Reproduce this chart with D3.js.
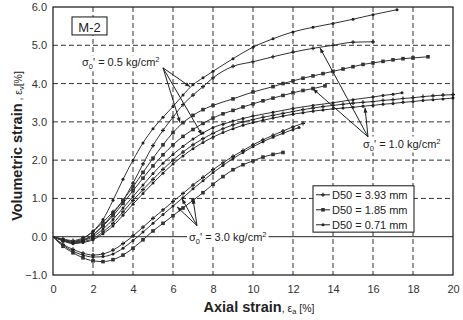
<!DOCTYPE html>
<html><head><meta charset="utf-8">
<script src="https://cdn.jsdelivr.net/npm/d3@7"></script>
<style>body{margin:0;background:#fff} svg{display:block}</style>
</head><body>
<svg id="c" width="463" height="320"></svg>
<script>
// ---------- DATA ----------
const xTicks = [0,2,4,6,8,10,12,14,16,18,20];
const yTicks = [-1,0,1,2,3,4,5,6];
const legendLabels = ["D50 = 3.93 mm","D50 = 1.85 mm","D50 = 0.71 mm"];
const markerTypes = ["plus","square","dot"];

// sigma0' = 0.5 / 1.0 kg/cm2 family (axial strain %, volumetric strain %)
const curve1 = [[0,0],[0.5,-0.07],[1,-0.12],[1.5,-0.05],[2,0.15],[2.5,0.45],[3,0.95],[3.5,1.5],[4,2.0],[4.5,2.45],[5,2.82],[5.5,3.12],[6,3.4],[6.5,3.7],[7,3.97],[7.5,4.15],[8,4.32],[9,4.65],[10,4.95],[11,5.17],[12,5.35],[13,5.47],[14,5.57],[15,5.68],[16,5.8],[17.2,5.93]];
const curve2 = [[0,0],[0.5,-0.06],[1,-0.1],[1.5,-0.03],[2,0.13],[2.5,0.38],[3,0.65],[3.5,0.95],[4,1.4],[4.5,1.9],[5,2.38],[5.5,2.78],[6,3.12],[6.5,3.45],[7,3.7],[7.5,3.92],[8,4.15],[9,4.45],[10,4.57],[11,4.7],[12,4.82],[13,4.92],[14,5.0],[15,5.08],[16,5.09]];
const curve3 = [[0,0],[0.5,-0.1],[1,-0.15],[1.5,-0.1],[2,0.05],[2.5,0.3],[3,0.6],[3.5,0.95],[4,1.3],[4.5,1.68],[5,2.05],[5.5,2.4],[6,2.72],[6.5,2.98],[7,3.17],[7.5,3.32],[8,3.43],[9,3.6],[10,3.78],[11,3.92],[11.5,4.0],[12,4.07],[12.5,4.14],[13,4.2],[13.5,4.26],[14,4.32],[14.5,4.38],[15,4.44],[15.5,4.5],[16,4.54],[16.5,4.58],[17,4.62],[17.5,4.65],[18,4.67],[18.75,4.7]];
const curve4 = [[0,0],[0.5,-0.08],[1,-0.13],[1.5,-0.08],[2,0.05],[2.5,0.28],[3,0.55],[3.5,0.87],[4,1.2],[4.5,1.53],[5,1.85],[5.5,2.14],[6,2.4],[6.5,2.62],[7,2.8],[7.5,2.96],[8,3.1],[8.5,3.21],[9,3.3],[9.5,3.39],[10,3.47],[10.5,3.55],[11,3.62],[11.5,3.69],[12,3.76],[12.5,3.82],[13,3.87],[13.6,3.94]];
const curve5 = [[0,0],[0.5,-0.09],[1,-0.15],[1.5,-0.1],[2,0.0],[2.5,0.2],[3,0.45],[3.5,0.75],[4,1.05],[4.5,1.35],[5,1.65],[5.5,1.92],[6,2.15],[6.5,2.36],[7,2.55],[7.5,2.71],[8,2.85],[8.5,2.94],[9,3.02],[9.5,3.09],[10,3.15],[11,3.25],[12,3.35],[13,3.43],[14,3.5],[15,3.58],[16,3.65],[16.5,3.69],[17,3.72],[17.45,3.76]];
const curve6 = [[0,0],[0.5,-0.1],[1,-0.17],[1.5,-0.13],[2,-0.05],[2.5,0.13],[3,0.35],[3.5,0.65],[4,0.95],[4.5,1.23],[5,1.5],[5.5,1.76],[6,2.0],[6.5,2.21],[7,2.4],[7.5,2.56],[8,2.7],[8.5,2.82],[9,2.92],[9.5,3.0],[10,3.06],[10.5,3.12],[11,3.17],[11.5,3.22],[12,3.27],[12.5,3.32],[13,3.36],[13.5,3.4],[14,3.43],[14.5,3.46],[15,3.49],[15.5,3.51],[16,3.53],[16.5,3.56],[17,3.58],[17.5,3.61],[18,3.63],[18.5,3.66],[19,3.68],[19.5,3.7],[20,3.71]];
const curve7 = [[0,0],[0.5,-0.11],[1,-0.18],[1.5,-0.15],[2,-0.08],[2.5,0.08],[3,0.28],[3.5,0.56],[4,0.85],[4.5,1.13],[5,1.4],[5.5,1.66],[6,1.9],[6.5,2.11],[7,2.3],[7.5,2.46],[8,2.6],[8.5,2.72],[9,2.82],[9.5,2.91],[10,2.98],[10.5,3.04],[11,3.1],[11.5,3.15],[12,3.2],[12.5,3.24],[13,3.28],[13.5,3.31],[14,3.34],[14.5,3.36],[15,3.38],[15.5,3.41],[16,3.43],[16.5,3.46],[17,3.48],[17.5,3.51],[18,3.53],[18.5,3.56],[19,3.58],[19.5,3.6],[20,3.62]];
// sigma0' = 3.0 kg/cm2 family
const curve8 = [[0,0],[0.5,-0.2],[1,-0.33],[1.5,-0.43],[2,-0.48],[2.5,-0.45],[3,-0.35],[3.5,-0.18],[4,0.02],[4.5,0.25],[5,0.48],[5.5,0.7],[6,0.92],[6.5,1.13],[7,1.35],[7.5,1.55],[8,1.75],[8.5,1.93],[9,2.1],[9.5,2.25],[10,2.4],[10.5,2.53],[11,2.65],[11.5,2.76],[12,2.87],[12.5,2.96]];
const curve9 = [[0,0],[0.5,-0.22],[1,-0.38],[1.5,-0.48],[2,-0.53],[2.5,-0.52],[3,-0.45],[3.5,-0.3],[4,-0.1],[4.5,0.12],[5,0.35],[5.5,0.58],[6,0.8],[6.5,1.02],[7,1.25],[7.5,1.46],[8,1.67],[8.5,1.86],[9,2.04],[9.5,2.2],[10,2.35],[10.5,2.48],[11,2.6],[11.5,2.7],[12,2.8],[12.3,2.85]];
const curve10 = [[0,0],[0.5,-0.25],[1,-0.42],[1.5,-0.55],[2,-0.63],[2.5,-0.65],[3,-0.6],[3.5,-0.48],[4,-0.3],[4.5,-0.08],[5,0.15],[5.5,0.35],[6,0.55],[6.5,0.75],[7,0.95],[7.5,1.15],[8,1.37],[8.5,1.57],[9,1.75],[9.5,1.88],[10,1.98],[10.5,2.08],[11,2.15],[11.5,2.2]];

const curves = [curve1,curve2,curve3,curve4,curve5,curve6,curve7,curve8,curve9,curve10];
const curveMarkers = ["dot","plus","square","square","dot","plus","dot","plus","dot","square"];

// annotation anchors (data units)
const ann05 = {text:"0.5", tx:1.45, ty:4.45, from:[5.5,4.41], to:[[6.85,3.92],[6.35,2.98],[7.45,2.66]]};
const ann10 = {text:"1.0", tx:15.5, ty:2.33, from:[15.75,2.61], to:[[13.35,4.93],[13.0,3.86],[15.6,3.37]]};
const ann30 = {text:"3.0", tx:6.8, ty:-0.1, from:[7.2,0.29], to:[[6.45,0.99],[7.0,0.99],[6.2,0.78]]};

// ---------- DRAW ----------
const svg = d3.select("#c");
const FONT = "'Liberation Sans', Arial, sans-serif";
const x = d3.scaleLinear().domain([0,20]).range([53,453]);
const y = d3.scaleLinear().domain([-1,6]).range([275,7]);

// grid
const grid = svg.append("g").attr("stroke","#333").attr("stroke-width",1).attr("stroke-dasharray","5,3");
xTicks.filter(t=>t>0 && t<20).forEach(t=>{
  grid.append("line").attr("x1",x(t)).attr("x2",x(t)).attr("y1",y(6)).attr("y2",y(-1));
});
yTicks.filter(t=>t>-1 && t<6 && t!==0).forEach(t=>{
  grid.append("line").attr("y1",y(t)).attr("y2",y(t)).attr("x1",x(0)).attr("x2",x(20));
});
svg.append("line").attr("x1",x(0)).attr("x2",x(20)).attr("y1",y(0)).attr("y2",y(0)).attr("stroke","#222").attr("stroke-width",1);

// axes (labels only)
const xAxis = svg.append("g").attr("transform",`translate(0,${y(-1)})`)
  .call(d3.axisBottom(x).tickValues(xTicks).tickSize(0).tickPadding(10).tickFormat(d3.format("d")));
const yAxis = svg.append("g").attr("transform",`translate(${x(0)},0)`)
  .call(d3.axisLeft(y).tickValues(yTicks).tickSize(0).tickPadding(6).tickFormat(d3.format(".1f")));
[xAxis,yAxis].forEach(a=>{
  a.select(".domain").remove();
  a.selectAll("text").attr("font-family",FONT).attr("font-size",11).attr("fill","#333");
});

// curves
const line = d3.line().x(d=>x(d[0])).y(d=>y(d[1])).curve(d3.curveMonotoneX);
const cg = svg.append("g");
function marker(g, type, px, py){
  if(type==="square") g.append("rect").attr("x",px-1.8).attr("y",py-1.8).attr("width",3.6).attr("height",3.6).attr("fill","#333");
  else if(type==="dot") g.append("circle").attr("cx",px).attr("cy",py).attr("r",1.5).attr("fill","#222");
  else g.append("path").attr("d",`M${px-2},${py}H${px+2}M${px},${py-2}V${py+2}`).attr("stroke","#222").attr("stroke-width",1.2);
}
curves.forEach((c,i)=>{
  cg.append("path").datum(c).attr("d",line).attr("fill","none").attr("stroke","#333").attr("stroke-width",1);
  c.forEach((p,j)=>{ if(j>0) marker(cg, curveMarkers[i], x(p[0]), y(p[1])); });
});

// frame
svg.append("rect").attr("x",x(0)).attr("y",y(6)).attr("width",x(20)-x(0)).attr("height",y(-1)-y(6))
  .attr("fill","none").attr("stroke","#111").attr("stroke-width",1.2);

// annotations
function sigmaLabel(a){
  const g = svg.append("g");
  const t = g.append("text").attr("x",x(a.tx)).attr("y",y(a.ty)).attr("font-family",FONT).attr("font-size",11).attr("fill","#222");
  t.append("tspan").text("σ");
  t.append("tspan").attr("font-size",7.5).attr("dy",3).text("0");
  t.append("tspan").attr("dy",-3).text("' = "+a.text+" kg/cm");
  t.append("tspan").attr("font-size",7.5).attr("dy",-4).text("2");
  const bb = t.node().getBBox();
  g.insert("rect","text").attr("x",bb.x-2).attr("y",bb.y).attr("width",bb.width+4).attr("height",bb.height).attr("fill","#fff");
  a.to.forEach(p=>{
    const x1=x(a.from[0]), y1=y(a.from[1]), x2=x(p[0]), y2=y(p[1]);
    g.append("line").attr("x1",x1).attr("y1",y1).attr("x2",x2).attr("y2",y2).attr("stroke","#222").attr("stroke-width",1);
    const ang = Math.atan2(y2-y1,x2-x1), L=5, W=2;
    const bx = x2-L*Math.cos(ang), by = y2-L*Math.sin(ang);
    g.append("path").attr("d",`M${x2},${y2}L${bx-W*Math.sin(ang)},${by+W*Math.cos(ang)}L${bx+W*Math.sin(ang)},${by-W*Math.cos(ang)}Z`).attr("fill","#222");
  });
}
[ann05,ann10,ann30].forEach(sigmaLabel);

// M-2 box
const mg = svg.append("g");
mg.append("rect").attr("x",x(0.95)).attr("y",y(5.74)).attr("width",x(2.7)-x(0.95)).attr("height",y(5.27)-y(5.74))
  .attr("fill","#fff").attr("stroke","#111").attr("stroke-width",1);
mg.append("text").attr("x",(x(0.95)+x(2.7))/2).attr("y",y(5.34)).attr("text-anchor","middle")
  .attr("font-family",FONT).attr("font-size",13).attr("fill","#222").text("M-2");

// legend
const lg = svg.append("g");
const lx0 = x(13), ly0 = y(1.33), lx1 = x(18.05), ly1 = y(0.12);
lg.append("rect").attr("x",lx0).attr("y",ly0).attr("width",lx1-lx0).attr("height",ly1-ly0)
  .attr("fill","#fff").attr("stroke","#111").attr("stroke-width",1);
legendLabels.forEach((lab,i)=>{
  const yy = ly0 + 9 + i*15;
  lg.append("line").attr("x1",lx0+3).attr("x2",lx0+17).attr("y1",yy).attr("y2",yy).attr("stroke","#222").attr("stroke-width",1);
  marker(lg, markerTypes[i], lx0+10, yy);
  lg.append("text").attr("x",lx0+19).attr("y",yy+4).attr("font-family",FONT).attr("font-size",11).attr("fill","#222").text(lab);
});

// axis titles
const xt = svg.append("text").attr("x",259).attr("y",312).attr("text-anchor","middle").attr("font-family",FONT).attr("fill","#222");
xt.append("tspan").attr("font-size",14.5).attr("font-weight","bold").text("Axial strain");
xt.append("tspan").attr("font-size",10.5).text(", ε");
xt.append("tspan").attr("font-size",7.5).attr("dy",2).text("a");
xt.append("tspan").attr("font-size",10.5).attr("dy",-2).text(" [%]");

const yt = svg.append("text").attr("transform","translate(22,146) rotate(-90)").attr("text-anchor","middle").attr("font-family",FONT).attr("fill","#222");
yt.append("tspan").attr("font-size",14.5).attr("font-weight","bold").text("Volumetric strain");
yt.append("tspan").attr("font-size",10.5).text(" , ε");
yt.append("tspan").attr("font-size",7.5).attr("dy",2).text("v");
yt.append("tspan").attr("font-size",10.5).attr("dy",-2).text("[%]");
</script>
</body></html>
